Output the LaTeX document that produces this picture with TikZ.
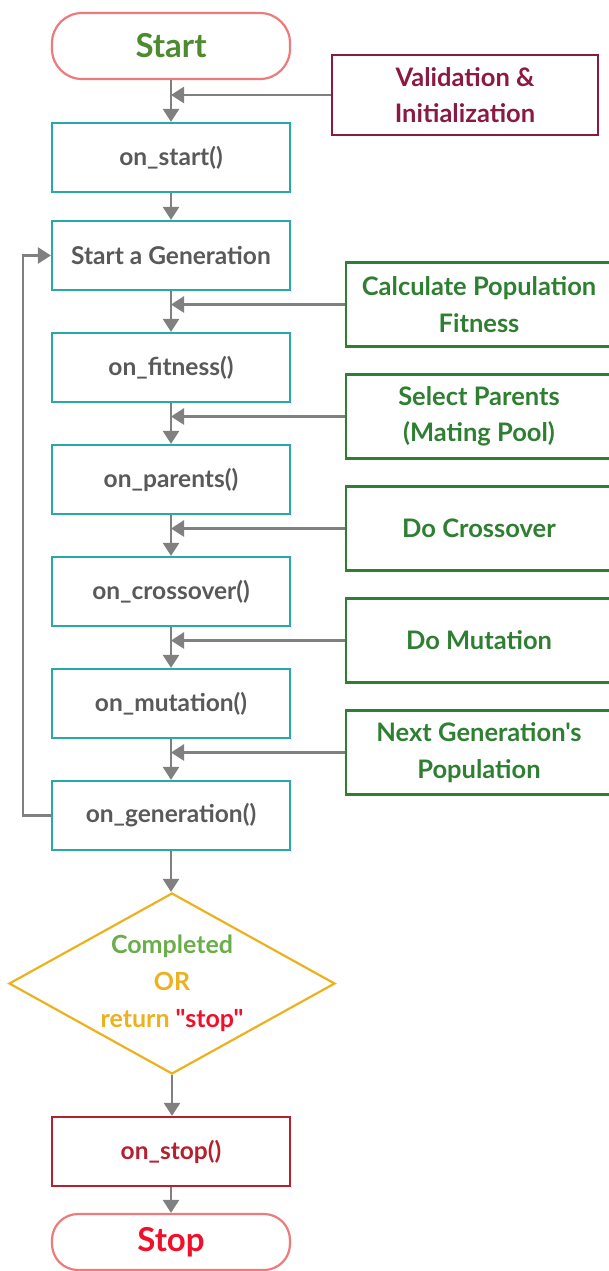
\documentclass[tikz,border=0pt]{standalone}
\usepackage{fontspec}
\setmainfont{Lato}[Ligatures=TeXOff]
\usetikzlibrary{arrows.meta,shapes.geometric}
\definecolor{arrowgray}{HTML}{808080}
\definecolor{termborder}{HTML}{EE7B7B}
\definecolor{startgreen}{HTML}{4E8A30}
\definecolor{valred}{HTML}{8A1A42}
\definecolor{boxteal}{HTML}{27A9A5}
\definecolor{boxtext}{HTML}{595959}
\definecolor{sidegreen}{HTML}{2F7F32}
\definecolor{compgreen}{HTML}{6AAE4A}
\definecolor{orgold}{HTML}{EDB120}
\definecolor{stopred}{HTML}{F0102A}
\definecolor{onstopred}{HTML}{B5202E}
\tikzset{
  term/.style={draw=termborder, line width=2.2pt, rectangle, rounded corners=30pt,
    minimum width=238pt, minimum height=66pt, font=\fontsize{33}{38}\selectfont\bfseries},
  fnbox/.style={draw=boxteal, line width=2.2pt, rectangle, minimum width=238pt,
    minimum height=69pt, text=boxtext, font=\fontsize{24.5}{28}\selectfont\bfseries},
  sidebox/.style={draw=sidegreen, line width=2.2pt, rectangle, minimum width=266pt,
    minimum height=84pt, text=sidegreen, align=center,
    font=\fontsize{25.5}{36.5}\selectfont\bfseries},
  conn/.style={draw=arrowgray, line width=2.6pt, -{Triangle[width=16pt,length=13pt]}},
}
\begin{document}
\begin{tikzpicture}[x=1pt,y=-1pt]
\useasboundingbox (0,0) rectangle (608,1271);
\node[term, text=startgreen] (start) at (171,46) {Start};
\node[sidebox, draw=valred, text=valred, minimum height=80pt] (valid) at (465,95) {Validation \&\\Initialization};
\node[fnbox] (onstart) at (171,157.5) {on\_start()};
\node[fnbox] (gen) at (171,255.5) {Start a Generation};
\node[sidebox] (calc) at (479,304.5) {Calculate Population\\Fitness};
\node[fnbox] (onfit) at (171,367.5) {on\_fitness()};
\node[sidebox] (sel) at (479,416.5) {Select Parents\\(Mating Pool)};
\node[fnbox] (onpar) at (171,479.5) {on\_parents()};
\node[sidebox] (cross) at (479,528.5) {Do Crossover};
\node[fnbox] (oncross) at (171,591.5) {on\_crossover()};
\node[sidebox] (mut) at (479,640.5) {Do Mutation};
\node[fnbox] (onmut) at (171,703.5) {on\_mutation()};
\node[sidebox] (next) at (479,752.5) {Next Generation{\char39}s\\Population};
\node[fnbox] (ongen) at (171,815.5) {on\_generation()};
\node[diamond, draw=orgold, line width=2.2pt, minimum width=326pt, minimum height=181pt,
  inner sep=0pt] (cond) at (172,983.5) {};
\node[align=center, font=\fontsize{25}{37}\selectfont\bfseries] (condtext) at (cond.center)
  {\textcolor{compgreen}{Completed}\\\textcolor{orgold}{OR}\\\textcolor{orgold}{return} \textcolor{stopred}{{\char34}stop{\char34}}};
\node[fnbox, draw=onstopred, text=onstopred] (onstop) at (171,1151.5) {on\_stop()};
\node[term, text=stopred, minimum height=56pt, rounded corners=26pt] (stop) at (171,1242) {Stop};
% main flow
\draw[conn] (start) -- (onstart);
\draw[conn] (onstart) -- (gen);
\draw[conn] (gen) -- (onfit);
\draw[conn] (onfit) -- (onpar);
\draw[conn] (onpar) -- (oncross);
\draw[conn] (oncross) -- (onmut);
\draw[conn] (onmut) -- (ongen);
\draw[conn] (ongen.south) -- (ongen.south |- cond.north);
\draw[conn] (cond.south) -- (cond.south |- onstop.north);
\draw[conn] (onstop) -- (stop);
% side inputs
\draw[conn] (valid.west) -- (valid.west -| start.south);
\draw[conn] (calc.west) -- (calc.west -| gen.south);
\draw[conn] (sel.west) -- (sel.west -| gen.south);
\draw[conn] (cross.west) -- (cross.west -| gen.south);
\draw[conn] (mut.west) -- (mut.west -| gen.south);
\draw[conn] (next.west) -- (next.west -| gen.south);
% loop back
\draw[conn] (ongen.west) -- ++(-28,0) |- (gen.west);
\end{tikzpicture}
\end{document}
